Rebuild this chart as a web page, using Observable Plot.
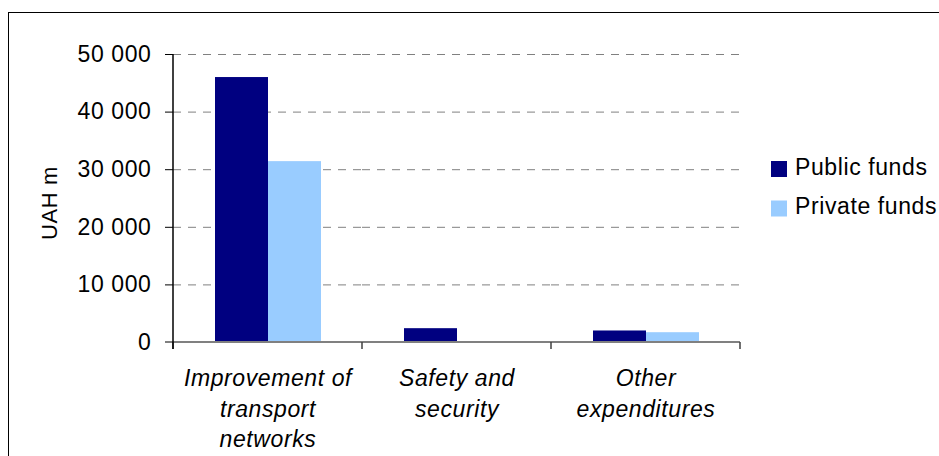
<!DOCTYPE html>
<html>
<head>
<meta charset="utf-8">
<script src="https://cdn.jsdelivr.net/npm/d3@7"></script>
<script src="https://cdn.jsdelivr.net/npm/@observablehq/plot@0.6"></script>
<style>
  html, body { margin: 0; padding: 0; background: #fff; }
  #chart { position: relative; width: 939px; height: 456px; overflow: hidden; }
  #chart svg text { letter-spacing: 0.6px; }
</style>
</head>
<body>
<div id="chart"></div>
<script>
// ---- data ----
const categories = ["Improvement of\ntransport\nnetworks", "Safety and\nsecurity", "Other\nexpenditures"];
const seriesNames = ["Public funds", "Private funds"];
const publicFunds = [46000, 2400, 2000];
const privateFunds = [31400, 0, 1700];
const yTicks = [0, 10000, 20000, 30000, 40000, 50000];
const seriesColors = ["#000080", "#99CCFF"];
const yTitle = "UAH m";

const data = categories.flatMap((c, i) => [
  {category: c, series: seriesNames[0], value: publicFunds[i]},
  {category: c, series: seriesNames[1], value: privateFunds[i]}
]);

const locale = d3.formatLocale({decimal: ".", thousands: " ", grouping: [3], currency: ["", ""]});
const fmt = locale.format(",");

const FONT = "'Liberation Sans', Arial, sans-serif";
const FS = 23;

const chart = Plot.plot({
  width: 939,
  height: 456,
  marginLeft: 172,
  marginRight: 198,
  marginTop: 54,
  marginBottom: 114,
  style: {fontFamily: FONT, fontSize: FS + "px", color: "#000", background: "#fff"},
  fx: {domain: categories, padding: 0, label: null},
  x: {domain: seriesNames, paddingInner: 0, paddingOuter: 0.776, axis: null},
  y: {domain: [0, 50000], label: null, axis: null},
  color: {domain: seriesNames, range: seriesColors},
  marks: [
    Plot.gridY(yTicks.filter(d => d > 0), {stroke: "#808080", strokeOpacity: 1, strokeDasharray: "8,7", strokeWidth: 1}),
    Plot.barY(data, {fx: "category", x: "series", y: "value", fill: "series"}),
    Plot.axisY(yTicks, {anchor: "left", tickSize: 8, tickPadding: 14, tickFormat: fmt, fontSize: FS, label: null, stroke: "#000"}),
    Plot.axisFx({anchor: "bottom", tickSize: 0, tickPadding: 22, lineHeight: 1.33, fontStyle: "italic", fontSize: FS, label: null})
  ]
});

document.getElementById("chart").appendChild(chart);

const svg = d3.select(chart);
const fx = chart.scale("fx");
const y = chart.scale("y");
const y0 = y.apply(0);
const yTop = y.apply(50000);
const left = fx.apply(categories[0]);
const right = fx.apply(categories[categories.length - 1]) + fx.bandwidth;

// x axis line
svg.append("line")
  .attr("x1", left - 8).attr("x2", right)
  .attr("y1", y0).attr("y2", y0)
  .attr("stroke", "#808080").attr("stroke-width", 2);
// x axis boundary ticks
const bounds = categories.map(c => fx.apply(c)).concat([right]);
svg.append("g").selectAll("line").data(bounds).join("line")
  .attr("x1", d => d).attr("x2", d => d)
  .attr("y1", y0).attr("y2", y0 + 7)
  .attr("stroke", "#404040").attr("stroke-width", 1.5);
// y axis line
svg.append("line")
  .attr("x1", left).attr("x2", left)
  .attr("y1", yTop).attr("y2", y0 + 7)
  .attr("stroke", "#000").attr("stroke-width", 1.5);

// y title
svg.append("text")
  .attr("transform", `translate(57,${(y0 + yTop) / 2 + 5}) rotate(-90)`)
  .attr("text-anchor", "middle")
  .attr("font-family", FONT).attr("font-size", 22)
  .attr("fill", "#000")
  .text(yTitle);

// legend
const lg = svg.append("g").attr("text-anchor", "start");
seriesNames.forEach((s, i) => {
  const yy = 161 + i * 39.5;
  lg.append("rect").attr("x", 771).attr("y", yy).attr("width", 16).attr("height", 16).attr("fill", seriesColors[i]);
  lg.append("text").attr("x", 795).attr("y", yy + 13.5)
    .attr("text-anchor", "start")
    .attr("font-family", FONT).attr("font-size", FS).attr("fill", "#000").text(s);
});

// outer border
svg.append("rect")
  .attr("x", 8.5).attr("y", 12.5).attr("width", 1000).attr("height", 1000)
  .attr("fill", "none").attr("stroke", "#000").attr("stroke-width", 1);
</script>
</body>
</html>
